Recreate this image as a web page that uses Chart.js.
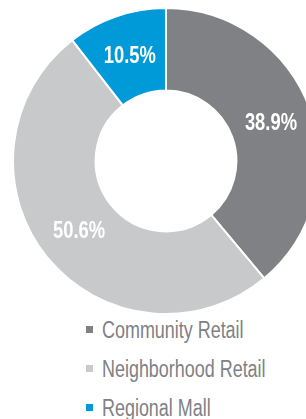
<!DOCTYPE html>
<html>
<head>
<meta charset="utf-8">
<script src="https://cdn.jsdelivr.net/npm/chart.js@4"></script>
<style>
  html, body { margin: 0; padding: 0; background: #fff; width: 306px; height: 419px; overflow: hidden; position: relative; }
  #wrap { position: absolute; left: 12px; top: 7px; width: 308px; height: 308px; }
  #legend { position: absolute; left: 86px; top: 316px; font-family: "Liberation Sans", sans-serif; font-size: 23px; color: #808184; }
  .item { height: 39px; line-height: 28px; white-space: nowrap; }
  .box { display: inline-block; width: 7px; height: 7px; margin-right: 9px; vertical-align: 5px; }
  .txt { display: inline-block; transform: scaleX(0.78); transform-origin: left center; }
</style>
</head>
<body>
<div id="wrap"><canvas id="chart"></canvas></div>
<div id="legend"></div>
<script>
var labels = ["Community Retail", "Neighborhood Retail", "Regional Mall"];
var shares = [38.9, 50.6, 10.5];
var colors = ["#808184", "#c8c9cb", "#009ad9"];

// percent labels inside the ring, squeezed to look condensed
var sliceLabels = {
  id: 'sliceLabels',
  afterDatasetsDraw: function(chart) {
    var ctx = chart.ctx;
    var meta = chart.getDatasetMeta(0);
    meta.data.forEach(function(arc, i) {
      var p = arc.tooltipPosition();
      ctx.save();
      ctx.translate(p.x, p.y);
      ctx.scale(0.8, 1);
      ctx.fillStyle = '#fff';
      ctx.font = 'bold 23px "Liberation Sans", sans-serif';
      ctx.textAlign = 'center';
      ctx.textBaseline = 'middle';
      ctx.fillText(shares[i].toFixed(1) + '%', 0, 1);
      ctx.restore();
    });
  }
};

new Chart(document.getElementById('chart'), {
  type: 'doughnut',
  data: {
    labels: labels,
    datasets: [{
      data: shares,
      backgroundColor: colors,
      borderColor: '#fff',
      borderWidth: 2
    }]
  },
  options: {
    responsive: true,
    maintainAspectRatio: false,
    animation: false,
    cutout: '46%',
    layout: { padding: 0 },
    plugins: {
      legend: { display: false },
      tooltip: { enabled: false }
    }
  },
  plugins: [sliceLabels]
});

var legendHtml = "";
for (var i = 0; i < labels.length; i++) {
  legendHtml += '<div class="item"><span class="box" style="background:' + colors[i] + '"></span><span class="txt">' + labels[i] + '</span></div>';
}
document.getElementById('legend').innerHTML = legendHtml;
</script>
</body>
</html>
